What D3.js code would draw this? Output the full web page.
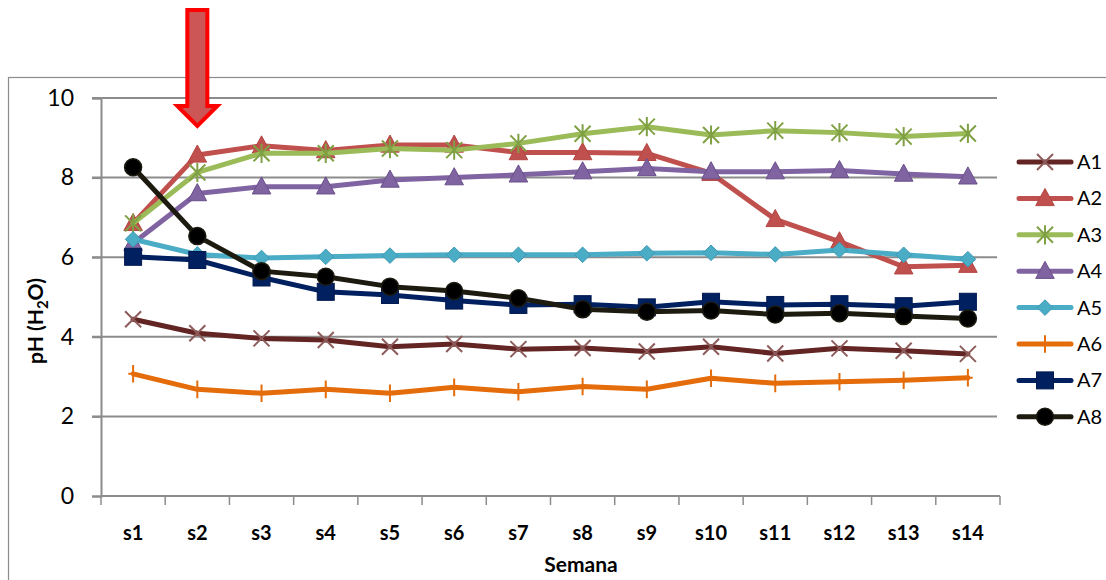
<!DOCTYPE html>
<html>
<head>
<meta charset="utf-8">
<script src="https://cdn.jsdelivr.net/npm/d3@7"></script>
<style>
  html, body { margin: 0; padding: 0; background: #fff; }
  svg { display: block; font-family: Lato, "Open Sans", sans-serif; }
</style>
</head>
<body>
<svg id="chart" width="1106" height="580"></svg>
<script>
// Weekly pH readings per sample
const weeks = ["s1","s2","s3","s4","s5","s6","s7","s8","s9","s10","s11","s12","s13","s14"];
const seriesNames = ["A1","A2","A3","A4","A5","A6","A7","A8"];
const A1 = [4.44,4.09,3.96,3.92,3.75,3.82,3.69,3.72,3.63,3.75,3.58,3.71,3.65,3.57];
const A2 = [6.85,8.57,8.80,8.68,8.82,8.82,8.63,8.63,8.61,8.11,6.95,6.39,5.76,5.80];
const A3 = [6.85,8.13,8.61,8.61,8.73,8.69,8.86,9.10,9.28,9.07,9.18,9.13,9.03,9.11];
const A4 = [6.35,7.60,7.77,7.77,7.94,8.00,8.07,8.15,8.23,8.15,8.15,8.18,8.09,8.02];
const A5 = [6.45,6.07,5.98,6.01,6.04,6.06,6.06,6.06,6.10,6.11,6.07,6.18,6.06,5.95];
const A6 = [3.07,2.68,2.58,2.68,2.58,2.73,2.62,2.75,2.68,2.96,2.83,2.87,2.91,2.97];
const A7 = [6.01,5.93,5.49,5.13,5.05,4.91,4.80,4.82,4.74,4.88,4.80,4.82,4.77,4.88];
const A8 = [8.26,6.53,5.65,5.51,5.26,5.15,4.97,4.69,4.63,4.66,4.56,4.59,4.52,4.46];
const yTicks = [0,2,4,6,8,10];

const values = [A1,A2,A3,A4,A5,A6,A7,A8];
const lineColors   = ["#632523","#C0504D","#9BBB59","#8064A2","#4BACC6","#E46C0A","#002060","#1D1B10"];
const markerFill   = ["none","#C0504D","#9BBB59","#8064A2","#4BACC6","none","#002060","#000000"];
const markerStroke = ["#8E5B5B","#B34542","#7FA043","#6A4F8C","#3C9AB3","#E46C0A","#001A50","#1D1B10"];
const markerKind   = ["x","triangle","asterisk","triangle","diamond","plus","square","circle"];

const svg = d3.select("#chart");

// Chart area frame
svg.append("rect")
  .attr("x", 8.5).attr("y", 77.5)
  .attr("width", 1120).attr("height", 560)
  .attr("fill", "none").attr("stroke", "#8C8C8C").attr("stroke-width", 1.2);

const plotLeft = 101, plotRight = 1000, plotTop = 98, plotBottom = 496;
const x = d3.scaleBand().domain(weeks).range([plotLeft, plotRight]);
const y = d3.scaleLinear().domain([0, 10]).range([plotBottom, plotTop]);
const cx = d => x(d) + x.bandwidth() / 2;

// Horizontal gridlines
svg.append("g")
  .selectAll("line").data(yTicks.filter(t => t > 0)).join("line")
  .attr("x1", plotLeft - 9).attr("x2", 997)
  .attr("y1", d => y(d)).attr("y2", d => y(d))
  .attr("stroke", "#8C8C8C").attr("stroke-width", 2);

// Y axis
const yAxis = svg.append("g")
  .attr("transform", `translate(${plotLeft},0)`)
  .call(d3.axisLeft(y).tickValues(yTicks).tickSize(9).tickPadding(18).tickFormat(d3.format("d")));
yAxis.select(".domain").attr("stroke", "#8C8C8C").attr("stroke-width", 2);
yAxis.selectAll(".tick line").attr("stroke", "#8C8C8C").attr("stroke-width", 2);
yAxis.selectAll(".tick text")
  .attr("font-family", "Lato, sans-serif").attr("font-size", 23).attr("fill", "#000");

// X axis with ticks at category boundaries
const xAxisG = svg.append("g").attr("transform", `translate(0,${plotBottom})`);
xAxisG.append("line")
  .attr("x1", plotLeft).attr("x2", plotRight).attr("stroke", "#8C8C8C").attr("stroke-width", 2);
const bounds = weeks.map(w => x(w)).concat([plotRight]);
xAxisG.selectAll("line.tk").data(bounds).join("line").attr("class", "tk")
  .attr("x1", d => d).attr("x2", d => d).attr("y1", 0).attr("y2", 9)
  .attr("stroke", "#8C8C8C").attr("stroke-width", 1.5);
xAxisG.selectAll("text").data(weeks).join("text")
  .attr("x", d => cx(d)).attr("y", 44)
  .attr("text-anchor", "middle")
  .attr("font-size", 20).attr("font-weight", "bold").attr("fill", "#000")
  .text(d => d);

// Axis titles
svg.append("text")
  .attr("x", 581).attr("y", 572).attr("text-anchor", "middle")
  .attr("font-size", 21).attr("font-weight", "bold").text("Semana");
const yt = svg.append("text")
  .attr("transform", "translate(43,321) rotate(-90)")
  .attr("text-anchor", "middle")
  .attr("font-size", 21).attr("font-weight", "bold");
yt.append("tspan").text("pH (H");
yt.append("tspan").attr("font-size", 15).attr("dy", 5).text("2");
yt.append("tspan").attr("dy", -5).text("O)");

// Marker drawing
function drawMarker(g, kind, fill, stroke, s) {
  switch (kind) {
    case "triangle":
      g.append("path").attr("d", `M0,${-s*0.62} L${s*0.58},${s*0.45} L${-s*0.58},${s*0.45} Z`)
        .attr("fill", fill).attr("stroke", stroke).attr("stroke-width", 1); break;
    case "diamond":
      g.append("path").attr("d", `M0,${-s*0.52} L${s*0.52},0 L0,${s*0.52} L${-s*0.52},0 Z`)
        .attr("fill", fill).attr("stroke", stroke).attr("stroke-width", 1); break;
    case "square":
      g.append("rect").attr("x", -s*0.5).attr("y", -s*0.5).attr("width", s).attr("height", s)
        .attr("fill", fill).attr("stroke", stroke).attr("stroke-width", 1); break;
    case "circle":
      g.append("circle").attr("r", s*0.5).attr("fill", fill).attr("stroke", stroke).attr("stroke-width", 1.5); break;
    case "x":
      g.append("path").attr("d", `M${-s/2},${-s/2}L${s/2},${s/2}M${-s/2},${s/2}L${s/2},${-s/2}`)
        .attr("stroke", stroke).attr("stroke-width", 2).attr("fill", "none"); break;
    case "asterisk":
      g.append("path").attr("d", `M${-s/2},${-s/2}L${s/2},${s/2}M${-s/2},${s/2}L${s/2},${-s/2}M0,${-s*0.6}L0,${s*0.6}`)
        .attr("stroke", stroke).attr("stroke-width", 2).attr("fill", "none"); break;
    case "plus":
      g.append("path").attr("d", `M0,${-s*0.55}L0,${s*0.55}M${-s*0.3},0L${s*0.3},0`)
        .attr("stroke", stroke).attr("stroke-width", 2).attr("fill", "none"); break;
  }
}
const markerSize = [16, 16, 16, 16, 15, 16, 17, 17];

const line = d3.line().x(d => cx(d.w)).y(d => y(d.v));

seriesNames.forEach((name, i) => {
  const pts = weeks.map((w, j) => ({ w, v: values[i][j] }));
  const g = svg.append("g");
  g.append("path").datum(pts).attr("d", line)
    .attr("fill", "none").attr("stroke", lineColors[i]).attr("stroke-width", 5)
    .attr("stroke-linejoin", "round").attr("stroke-linecap", "round");
  pts.forEach(p => {
    const m = g.append("g").attr("transform", `translate(${cx(p.w)},${y(p.v)})`);
    drawMarker(m, markerKind[i], markerFill[i], markerStroke[i], markerSize[i]);
  });
});

// Legend
const lg = svg.append("g");
seriesNames.forEach((name, i) => {
  const ly = 162 + i * 36.4;
  lg.append("line").attr("x1", 1019).attr("x2", 1071).attr("y1", ly).attr("y2", ly)
    .attr("stroke", lineColors[i]).attr("stroke-width", 5).attr("stroke-linecap", "round");
  const m = lg.append("g").attr("transform", `translate(1045,${ly})`);
  drawMarker(m, markerKind[i], markerFill[i], markerStroke[i], markerSize[i]);
  lg.append("text").attr("x", 1077).attr("y", ly + 7)
    .attr("font-size", 20).attr("fill", "#000").text(name);
});

// Down arrow pointing at week 2
const ax = cx("s2");
const arrow = d3.path();
arrow.moveTo(ax - 10, 10);
arrow.lineTo(ax + 10, 10);
arrow.lineTo(ax + 10, 106);
arrow.lineTo(ax + 20, 106);
arrow.lineTo(ax, 126);
arrow.lineTo(ax - 20, 106);
arrow.lineTo(ax - 10, 106);
arrow.closePath();
svg.append("path").attr("d", arrow.toString())
  .attr("fill", "#CC5555").attr("stroke", "#FF0000").attr("stroke-width", 4)
  .attr("stroke-linejoin", "miter");
</script>
</body>
</html>
